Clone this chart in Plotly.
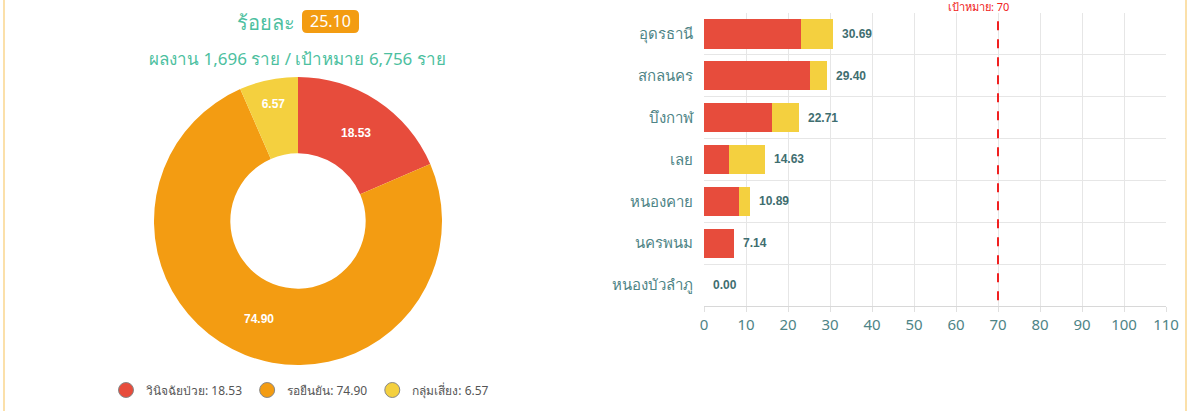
import plotly.graph_objects as go

# donut data
pie_labels = ["วินิจฉัยป่วย", "รอยืนยัน", "กลุ่มเสี่ยง"]
pie_values = [18.53, 74.90, 6.57]
pie_colors = ["#E74C3C", "#F39C12", "#F4D03F"]

percent_text = "25.10"
subtitle = "ผลงาน 1,696 ราย / เป้าหมาย 6,756 ราย"

# bar data by province
provinces = ["อุดรธานี", "สกลนคร", "บึงกาฬ", "เลย", "หนองคาย", "นครพนม", "หนองบัวลำภู"]
red_part = [23.20, 25.30, 16.30, 5.90, 8.40, 7.14, 0.00]
yellow_part = [7.49, 4.10, 6.41, 8.73, 2.49, 0.00, 0.00]
totals = [30.69, 29.40, 22.71, 14.63, 10.89, 7.14, 0.00]
target = 70
x_ticks = [0, 10, 20, 30, 40, 50, 60, 70, 80, 90, 100, 110]

W, H = 1191, 411
TEAL = "#4DBFA0"
AXIS_TXT = "#4E8486"
VAL_TXT = "#3F6E70"
FONT = "Noto Sans, sans-serif"


def px_x(v):
    return v / W


def px_y(v):
    return 1 - v / H


def rounded_box(x0, y0, x1, y1, r):
    # rounded rectangle path in paper coords, from pixel bounds
    rx, ry = r / W, r / H
    a, b, c, d = px_x(x0), px_y(y1), px_x(x1), px_y(y0)
    return (f"M {a + rx},{b} L {c - rx},{b} Q {c},{b} {c},{b + ry} "
            f"L {c},{d - ry} Q {c},{d} {c - rx},{d} L {a + rx},{d} "
            f"Q {a},{d} {a},{d - ry} L {a},{b + ry} Q {a},{b} {a + rx},{b} Z")


fig = go.Figure()

fig.add_trace(go.Pie(
    labels=pie_labels,
    values=pie_values,
    marker=dict(colors=pie_colors, line=dict(width=0)),
    hole=0.47,
    sort=False,
    direction="clockwise",
    rotation=0,
    texttemplate="%{value:.2f}",
    textposition="inside",
    insidetextorientation="horizontal",
    textfont=dict(color="white", size=12, family="Liberation Sans, Arial, sans-serif", weight="bold"),
    domain=dict(x=[px_x(154), px_x(442)], y=[px_y(365), px_y(77)]),
    showlegend=False,
))

fig.add_trace(go.Bar(
    y=provinces, x=red_part, orientation="h",
    marker=dict(color="#E74C3C", line=dict(width=0)),
    showlegend=False,
))
fig.add_trace(go.Bar(
    y=provinces, x=yellow_part, orientation="h",
    marker=dict(color="#F4D03F", line=dict(width=0)),
    showlegend=False,
))

# custom circle legend for the donut
for name, val, col in zip(pie_labels, pie_values, pie_colors):
    fig.add_trace(go.Scatter(
        x=[None], y=[None], mode="markers",
        name=f"{name}: {val:.2f}",
        marker=dict(color=col, size=15, symbol="circle", line=dict(color="#888", width=1)),
    ))

for p, t in zip(provinces, totals):
    fig.add_annotation(
        x=t, y=p, xref="x", yref="y", text=f"<b>{t:.2f}</b>",
        showarrow=False, xanchor="left", xshift=7,
        font=dict(size=12, color=VAL_TXT, family="Liberation Sans, Arial, sans-serif"),
    )

# target line
fig.add_shape(
    type="line", xref="x", yref="y domain", x0=target, x1=target, y0=0.02, y1=1,
    line=dict(color="#F02020", width=2, dash="dash"),
)
fig.add_annotation(
    x=target, y=px_y(7), xref="x", yref="paper", text=f"เป้าหมาย: {target}",
    showarrow=False, yanchor="middle", xanchor="center", xshift=-20,
    font=dict(size=11, color="#F02020"),
)

# header texts
fig.add_annotation(
    x=px_x(297), y=px_y(22), xref="paper", yref="paper", text="ร้อยละ",
    showarrow=False, xanchor="right", yanchor="middle",
    font=dict(size=20, color=TEAL),
)
fig.add_shape(type="path", xref="paper", yref="paper",
              path=rounded_box(302, 10, 359, 33, 5),
              fillcolor="#F39C12", line=dict(width=0), layer="below")
fig.add_annotation(
    x=px_x(330.5), y=px_y(21.5), xref="paper", yref="paper", text=percent_text,
    showarrow=False, xanchor="center", yanchor="middle",
    font=dict(size=16, color="white"),
)
fig.add_annotation(
    x=px_x(297), y=px_y(58), xref="paper", yref="paper", text=subtitle,
    showarrow=False, xanchor="center", yanchor="middle",
    font=dict(size=17, color=TEAL),
)

# side borders
for xp in [4, 1186]:
    fig.add_shape(type="line", xref="paper", yref="paper", x0=px_x(xp), x1=px_x(xp), y0=0, y1=1,
                  line=dict(color="#FBE0AA", width=2))

fig.update_layout(
    width=W, height=H,
    margin=dict(l=0, r=0, t=0, b=0, autoexpand=False),
    paper_bgcolor="white", plot_bgcolor="white",
    font=dict(family=FONT, size=12),
    barmode="stack",
    bargap=0.3,
    xaxis=dict(
        domain=[px_x(704), px_x(1166)],
        range=[0, 110], tickvals=x_ticks,
        automargin=False,
        showgrid=True, gridcolor="#E6E6E6", gridwidth=1,
        zeroline=False, showline=True, linecolor="#D8D8D8",
        ticks="outside", ticklen=5, tickcolor="#E0E0E0",
        tickfont=dict(size=15, color=AXIS_TXT),
        fixedrange=True,
    ),
    yaxis=dict(
        domain=[px_y(306), px_y(13)],
        type="category", automargin=False,
        categoryorder="array", categoryarray=provinces,
        range=[len(provinces) - 0.5, -0.5],
        tickson="boundaries",
        showgrid=True, gridcolor="#E6E6E6",
        ticks="", ticklabelstandoff=10,
        tickfont=dict(size=15, color=AXIS_TXT),
        showline=False, zeroline=False,
    ),
    legend=dict(
        orientation="h", x=px_x(300), xanchor="center", y=px_y(390), yanchor="middle",
        traceorder="normal",
        font=dict(size=12, color="#555"),
        itemwidth=30, tracegroupgap=0,
        bgcolor="rgba(0,0,0,0)",
    ),
)

# page body has a default 8px margin and may get scrollbars; drop both
fig.write_html(
    "out.html",
    config={"displayModeBar": False},
    post_script="document.body.style.margin='0';document.body.style.overflow='hidden';",
)
